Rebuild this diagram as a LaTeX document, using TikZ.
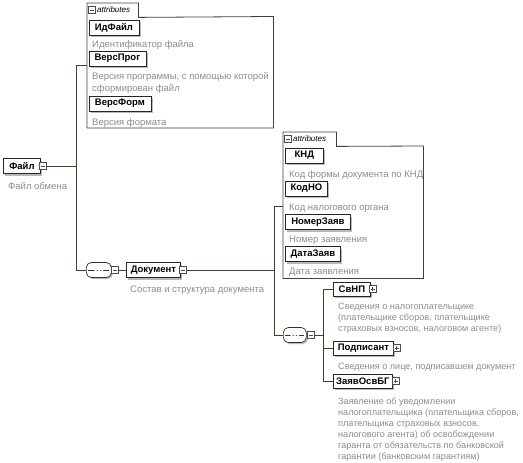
\documentclass[tikz,border=0pt]{standalone}
\usepackage{fontspec}
\setmainfont{Liberation Sans}
\usetikzlibrary{positioning,calc,shadows}

\definecolor{LineCol}{RGB}{70,62,40}
\definecolor{DescCol}{RGB}{140,140,140}
\definecolor{ShadowCol}{RGB}{185,185,185}

\tikzset{
	elem/.style={draw=black!85, fill=white, line width=0.8pt, anchor=west,
		font=\fontsize{9.5}{11}\selectfont\bfseries, inner sep=0pt,
		minimum height=15,
		drop shadow={shadow xshift=2pt, shadow yshift=-2pt, fill=ShadowCol, opacity=1}},
	child/.style={elem, minimum height=14},
	desc/.style={anchor=base west, inner sep=0pt, align=left, text=DescCol,
		font=\fontsize{9.5}{12}\selectfont},
	descnarrow/.style={desc, font=\fontsize{9.1}{11}\selectfont},
	expander/.style={draw=black!70, fill=white, line width=0.5pt, minimum size=7,
		inner sep=0pt},
	minusbox/.style={expander, path picture={
			\draw[line width=0.6pt] ([xshift=1.5pt]path picture bounding box.west)
			-- ([xshift=-1.5pt]path picture bounding box.east);}},
	plusbox/.style={expander, path picture={
			\draw[line width=0.6pt] ([xshift=1.5pt]path picture bounding box.west)
			-- ([xshift=-1.5pt]path picture bounding box.east);
			\draw[line width=0.6pt] ([yshift=-1.5pt]path picture bounding box.north)
			-- ([yshift=1.5pt]path picture bounding box.south);}},
	conn/.style={LineCol, line width=0.7pt},
	attrbox/.style={anchor=north west, inner sep=0pt},
	attrtab/.style={anchor=north west, inner sep=0pt, minimum height=14},
	frame/.style={draw=black!75, line width=0.8pt},
	tabtext/.style={anchor=west, inner sep=0pt, font=\fontsize{8}{9}\selectfont\itshape},
	seqnode/.style={draw=black!80, fill=white, rounded corners=5pt, line width=0.7pt,
		minimum height=15, inner sep=0pt, anchor=west,
		drop shadow={shadow xshift=1.5pt, shadow yshift=-1.5pt, fill=ShadowCol, opacity=1},
		path picture={
			\draw[line width=0.6pt] ([xshift=2pt]path picture bounding box.west)
			-- ([xshift=-2pt]path picture bounding box.east);
			\foreach \dx in {-3.2,0,3.2}
			\fill ([xshift=\dx pt]path picture bounding box.center) circle (1.4pt);}},
}

\begin{document}
\begin{tikzpicture}[x=1pt, y=-1pt]
	\useasboundingbox (0,0) rectangle (523,463);
	
	% root element
	\node[elem, minimum width=37] (file) at (3,166) {Файл};
	\node[minusbox] (fileM) at (42.5,166) {};
	\node[desc] (fileD) at (8,189) {Файл обмена};
	
	% junctions
	\coordinate (vTop) at (76,65);
	\coordinate (vBot) at (76,270);
	
	% --- attributes of Файл ---
	\node[attrbox, minimum width=186, minimum height=111] (attrA) at (87,16.5) {};
	\node[attrtab, minimum width=51] (tabA) at (87,3) {};
	\draw[frame] (tabA.south west) |- (tabA.north east) -- (tabA.south east)
	-- (attrA.north east) |- (attrA.south west) -- (attrA.north west);
	\node[minusbox] (tabAM) at (92,10) {};
	\node[tabtext] (tabAT) at (97,10) {attributes};
	
	\node[elem, minimum width=50] (idFile) at (88.5,27.5) {ИдФайл};
	\node[desc] (idFileD) at (92,48) {Идентификатор файла};
	\node[elem, minimum width=57] (versProg) at (88.5,58.5) {ВерсПрог};
	\node[desc] (versProgD) at (92,91) {Версия программы, с помощью которой\\сформирован файл};
	\node[elem, minimum width=62] (versForm) at (88.5,103.5) {ВерсФорм};
	\node[desc] (versFormD) at (92,125) {Версия формата};
	
	% --- sequence -> Документ ---
	\node[seqnode, minimum width=25] (seqA) at (86,270) {};
	\node[minusbox] (seqAM) at (114.5,270) {};
	\node[elem, minimum width=54] (doc) at (126,270) {Документ};
	\node[minusbox] (docM) at (183,270) {};
	\node[desc] (docD) at (130,292) {Состав и структура документа};
	
	\coordinate (wTop) at (274,206);
	\coordinate (wBot) at (274,335);
	
	% --- attributes of Документ ---
	\node[attrbox, minimum width=140, minimum height=132] (attrB) at (283,146) {};
	\node[attrtab, minimum width=53] (tabB) at (283,132) {};
	\draw[frame] (tabB.south west) |- (tabB.north east) -- (tabB.south east)
	-- (attrB.north east) |- (attrB.south west) -- (attrB.north west);
	\node[minusbox] (tabBM) at (288,139) {};
	\node[tabtext] (tabBT) at (293,139) {attributes};
	
	\node[elem, minimum width=38] (knd) at (285,155.5) {КНД};
	\node[desc] (kndD) at (289,177) {Код формы документа по КНД};
	\node[elem, minimum width=42] (kodNO) at (285,188.5) {КодНО};
	\node[desc] (kodNOD) at (289,210) {Код налогового органа};
	\node[elem, minimum width=65] (nomer) at (285,222) {НомерЗаяв};
	\node[desc] (nomerD) at (289,242) {Номер заявления};
	\node[elem, minimum width=55] (data) at (285,254) {ДатаЗаяв};
	\node[desc] (dataD) at (289,274) {Дата заявления};
	
	% --- sequence of child elements ---
	\node[seqnode, minimum width=23] (seqB) at (283,335) {};
	\node[minusbox] (seqBM) at (310.5,335) {};
	\coordinate (uTop) at (323,289);
	\coordinate (uBot) at (323,381);
	
	\node[child, minimum width=37] (svNP) at (333,289) {СвНП};
	\node[plusbox] (svNPP) at (372.5,289) {};
	\node[descnarrow] (svNPD) at (338,331) {Сведения о налогоплательщике\\(плательщике сборов, плательщике\\страховых взносов, налоговом агенте)};
	\node[child, minimum width=60] (podp) at (333,348) {Подписант};
	\node[plusbox] (podpP) at (396.5,348) {};
	\node[descnarrow] (podpD) at (338,369) {Сведения о лице, подписавшем документ};
	\node[child, minimum width=59] (zayav) at (333,381) {ЗаявОсвБГ};
	\node[plusbox] (zayavP) at (395.5,381) {};
	\node[descnarrow] (zayavD) at (338,459) {Заявление об уведомлении\\налогоплательщика (плательщика сборов,\\плательщика страховых взносов,\\налогового агента) об освобождении\\гаранта от обязательств по банковской\\гарантии (банковским гарантиям)};
	
	% connectors
	\draw[conn] (fileM.east) -- (fileM.east -| vTop);
	\draw[conn] (vTop) -- (vBot);
	\draw[conn] (vTop) -- (vTop -| attrA.west);
	\draw[conn] (vBot) -- (seqA.west);
	\draw[conn] (seqA.east) -- (seqAM.west);
	\draw[conn] (seqAM.east) -- (doc.west);
	\draw[conn] (docM.east) -- (docM.east -| wTop);
	\draw[conn] (wTop) -- (wBot);
	\draw[conn] (wTop) -- (wTop -| attrB.west);
	\draw[conn] (wBot) -- (seqB.west);
	\draw[conn] (seqB.east) -- (seqBM.west);
	\draw[conn] (seqBM.east) -- (seqBM.east -| uTop);
	\draw[conn] (uTop) -- (uBot);
	\draw[conn] (uTop) -- (svNP.west);
	\draw[conn] (podp.west -| uTop) -- (podp.west);
	\draw[conn] (uBot) -- (zayav.west);
\end{tikzpicture}
\end{document}
